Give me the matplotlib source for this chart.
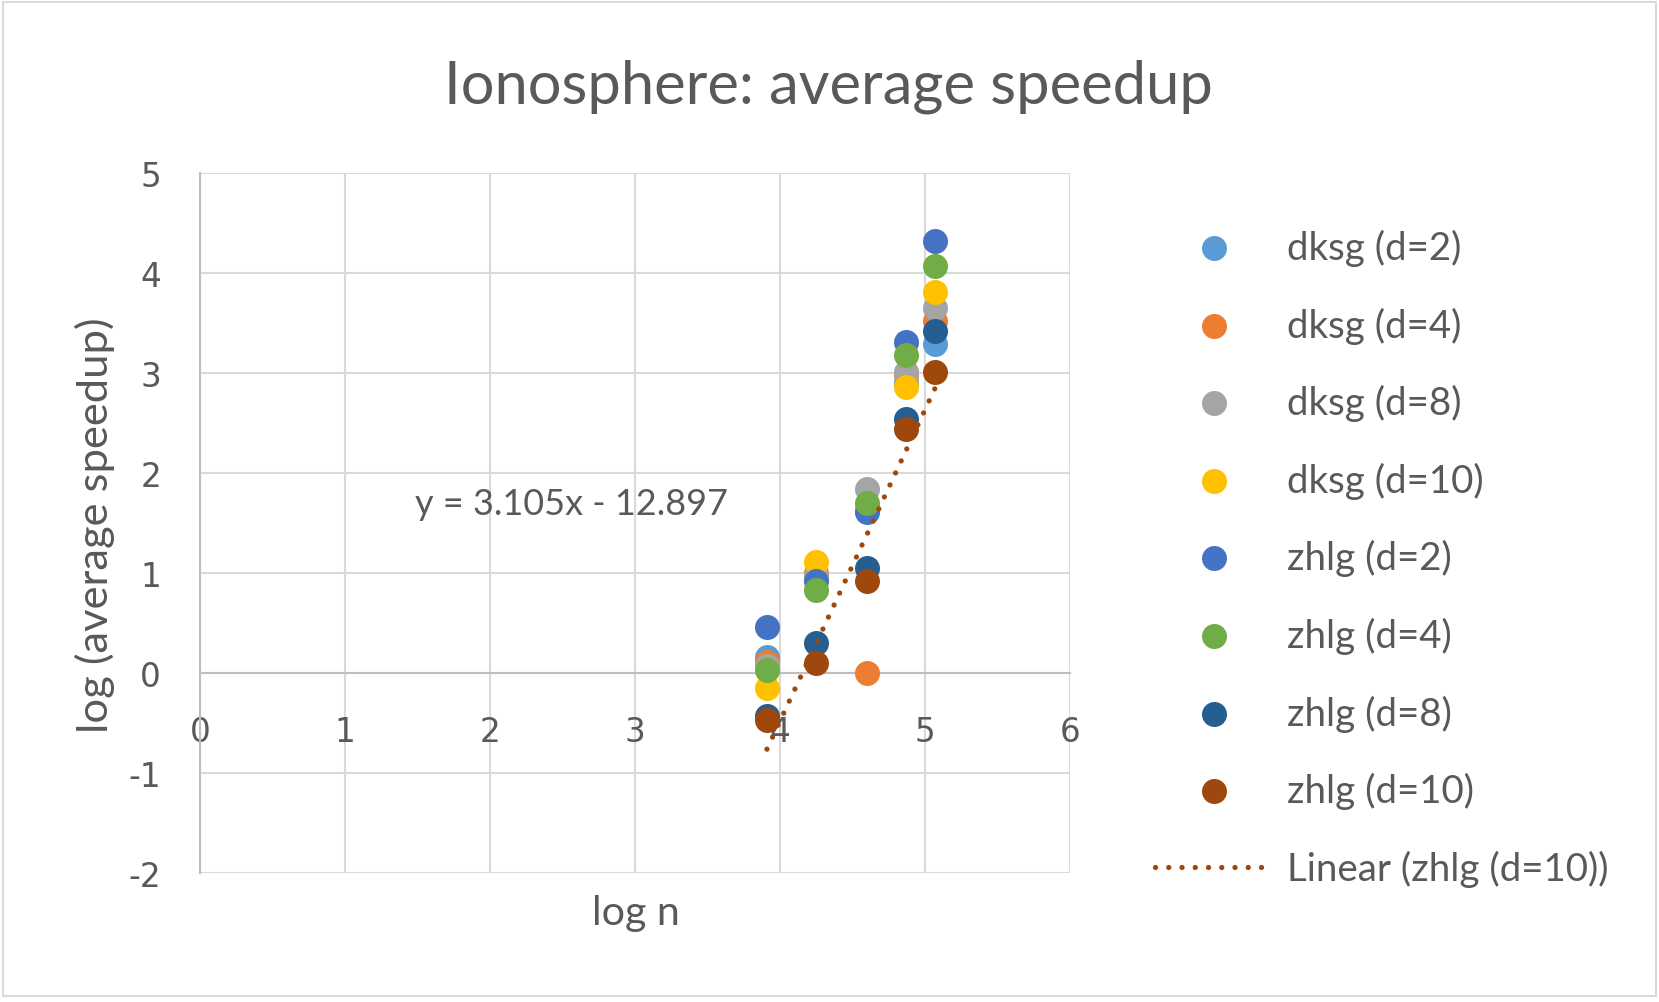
import numpy as np
import matplotlib
matplotlib.use("Agg")
import matplotlib.pyplot as plt
from matplotlib.lines import Line2D
from matplotlib.patches import Rectangle

plt.rcParams["axes.unicode_minus"] = False

# ---------------- data ----------------
log_n = [3.91, 4.25, 4.60, 4.87, 5.07]

dksg_d2 = [0.16, 0.95, 1.63, 2.90, 3.29]
dksg_d4 = [0.11, 1.00, 0.00, 2.98, 3.52]
dksg_d8 = [0.07, 0.97, 1.84, 3.01, 3.65]
dksg_d10 = [-0.15, 1.11, 1.67, 2.86, 3.81]
zhlg_d2 = [0.46, 0.92, 1.61, 3.31, 4.32]
zhlg_d4 = [0.03, 0.83, 1.70, 3.18, 4.07]
zhlg_d8 = [-0.43, 0.30, 1.05, 2.54, 3.42]
zhlg_d10 = [-0.47, 0.10, 0.92, 2.44, 3.01]

series_labels = ["dksg (d=2)", "dksg (d=4)", "dksg (d=8)", "dksg (d=10)",
                 "zhlg (d=2)", "zhlg (d=4)", "zhlg (d=8)", "zhlg (d=10)"]
series_values = [dksg_d2, dksg_d4, dksg_d8, dksg_d10,
                 zhlg_d2, zhlg_d4, zhlg_d8, zhlg_d10]
series_colors = ["#5B9BD5", "#ED7D31", "#A5A5A5", "#FFC000",
                 "#4472C4", "#70AD47", "#255E91", "#9E480E"]
trend_label = "Linear (zhlg (d=10))"
equation_text = "y = 3.105x - 12.897"
title_text = "Ionosphere: average speedup"
xlabel_text = "log n"
ylabel_text = "log (average speedup)"
x_ticks = [0, 1, 2, 3, 4, 5, 6]
y_ticks = [-2, -1, 0, 1, 2, 3, 4, 5]

# ---------------- layout ----------------
W, H = 1659, 1003
TXT = "#595959"
FONT = ["Lato", "DejaVu Sans"]

fig = plt.figure(figsize=(W / 100, H / 100), dpi=100)
fig.patch.set_facecolor("white")

def fx(px):
    return px / W

def fy(py):
    return 1 - py / H

ax = fig.add_axes([fx(200), fy(874), fx(1070) - fx(200), fy(174) - fy(874)])
ax.set_xlim(0, 6)
ax.set_ylim(-2, 5)
ax.set_xticks(x_ticks)
ax.set_yticks(y_ticks)
ax.grid(True, color="#D9D9D9", lw=1.5)
ax.set_axisbelow(True)
for s in ["top", "right"]:
    ax.spines[s].set_visible(False)
ax.spines["bottom"].set_position(("data", 0))
for s in ["bottom", "left"]:
    ax.spines[s].set_color("#BFBFBF")
    ax.spines[s].set_linewidth(1.5)
ax.tick_params(length=0, labelsize=23.5, labelcolor=TXT)
ax.tick_params(axis="x", pad=30)
ax.tick_params(axis="y", pad=28)
for lab in ax.get_xticklabels() + ax.get_yticklabels():
    lab.set_fontfamily("DejaVu Sans")

MS = 18  # marker size in points
for vals, col in zip(series_values, series_colors):
    ax.plot(log_n, vals, ls="none", marker="o", ms=MS, mfc=col, mec=col,
            mew=0, zorder=3, clip_on=False)

# linear trendline on zhlg (d=10)
coef = np.polyfit(log_n, zhlg_d10, 1)
xs = np.array([min(log_n), max(log_n)])
trend_style = dict(color="#9E480E", lw=3.8, ls=(0, (0.01, 2.5)),
                   dash_capstyle="round")
ax.plot(xs, np.polyval(coef, xs), zorder=4, **trend_style)

# texts
t_title = fig.text(fx(828), fy(103), title_text, ha="center", va="baseline",
                   fontsize=40, color=TXT, family=FONT)
t_xl = fig.text(fx(636), fy(925), xlabel_text, ha="center", va="baseline",
                fontsize=26, color=TXT, family=FONT)
t_yl = fig.text(fx(108), fy(525), ylabel_text, ha="center", va="baseline",
                rotation=90, rotation_mode="anchor", fontsize=26, color=TXT,
                family=FONT)
t_eq = fig.text(fx(571), fy(515), equation_text, ha="center", va="baseline",
                fontsize=26, color=TXT, family=FONT)

# manual legend
leg_texts = []
row0, step = 249, 77.6
for i, (lab, col) in enumerate(zip(series_labels, series_colors)):
    yy = row0 + i * step
    fig.add_artist(Line2D([fx(1214)], [fy(yy)], ls="none", marker="o", ms=MS,
                          mfc=col, mec=col, mew=0, transform=fig.transFigure))
    leg_texts.append(fig.text(fx(1287), fy(yy + 11), lab, ha="left",
                              va="baseline", fontsize=26, color=TXT,
                              family=FONT))
yy = row0 + len(series_labels) * step
fig.add_artist(Line2D([fx(1155), fx(1268)], [fy(yy - 2), fy(yy - 2)],
                      transform=fig.transFigure, **trend_style))
leg_texts.append(fig.text(fx(1287), fy(yy + 11), trend_label, ha="left",
                          va="baseline", fontsize=26, color=TXT, family=FONT))

# fit font sizes to the reference text extents
fig.canvas.draw()
r = fig.canvas.get_renderer()

def fit(t, target, use_height=False):
    bb = t.get_window_extent(r)
    cur = bb.height if use_height else bb.width
    t.set_fontsize(t.get_fontsize() * target / cur)

fit(t_title, 767)
fit(t_xl, 88)
fit(t_yl, 414, use_height=True)
fit(t_eq, 313)
bb = leg_texts[-1].get_window_extent(r)
leg_size = leg_texts[-1].get_fontsize() * 321 / bb.width
for t in leg_texts:
    t.set_fontsize(leg_size)

# chart border
fig.add_artist(Rectangle((fx(3), fy(997)), fx(1656) - fx(3), fy(3) - fy(997),
                         transform=fig.transFigure, fill=False,
                         ec="#D9D9D9", lw=1.5))

fig.savefig("out.png", dpi=100, facecolor="white")
